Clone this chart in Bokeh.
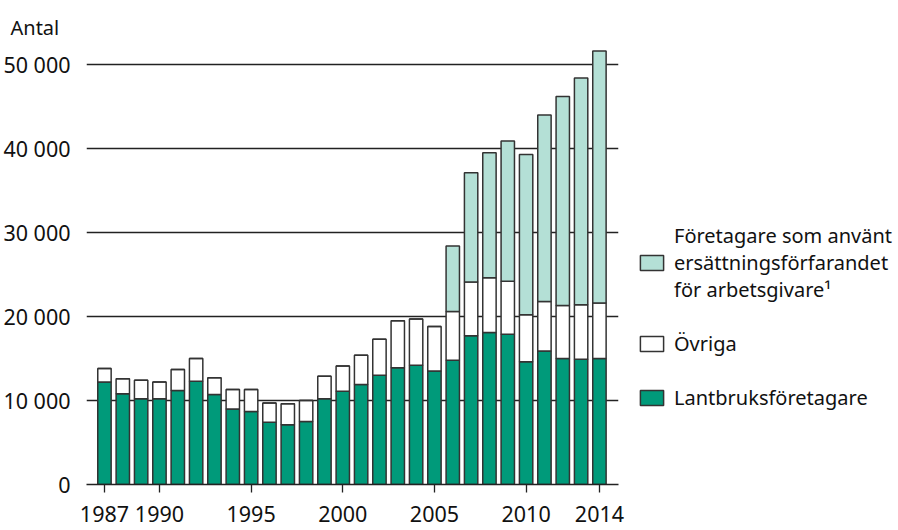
from bokeh.plotting import figure
from bokeh.models import Legend, LegendItem, FixedTicker, Range1d
from bokeh.embed import file_html
from bokeh.resources import INLINE

years = list(range(1987, 2015))
lantbruk = [12200, 10800, 10200, 10200, 11200, 12300, 10700, 9000, 8700, 7400,
            7100, 7500, 10200, 11100, 11900, 13000, 13900, 14200, 13500, 14800,
            17700, 18100, 17900, 14600, 15900, 15000, 14900, 15000]
ovriga = [1600, 1800, 2200, 2000, 2500, 2700, 2000, 2300, 2600, 2300,
          2500, 2500, 2700, 3000, 3500, 4300, 5600, 5500, 5300, 5800,
          6400, 6500, 6300, 5600, 5900, 6300, 6500, 6600]
ersattning = [0, 0, 0, 0, 0, 0, 0, 0, 0, 0,
              0, 0, 0, 0, 0, 0, 0, 0, 0, 7800,
              13000, 14900, 16700, 19100, 22200, 24900, 27000, 30000]

series_names = ["Lantbruksföretagare", "Övriga",
                "Företagare som använt\nersättningsförfarandet\nför arbetsgivare\u00b9"]
x_ticks = [1987, 1990, 1995, 2000, 2005, 2010, 2014]
y_ticks = [0, 10000, 20000, 30000, 40000, 50000]
y_tick_labels = ["0", "10 000", "20 000", "30 000", "40 000", "50 000"]

FONT = "Noto Sans"
colors = ["#009a7a", "#ffffff", "#b4e0d6"]

p = figure(frame_width=532, frame_height=441,
           min_border_left=85, min_border_right=281,
           min_border_top=43, min_border_bottom=46,
           x_range=Range1d(1986.02, 2015.04), y_range=Range1d(0, 52500),
           output_backend="svg", toolbar_location=None)
p.outline_line_color = None

p.title.text = "Antal"
p.title.align = "left"
p.title.offset = -76
p.title.standoff = 6
p.title.text_font = FONT
p.title.text_font_size = "20px"
p.title.text_font_style = "normal"
p.title.text_color = "#111111"

data = dict(year=years, lantbruk=lantbruk, ovriga=ovriga, ersattning=ersattning)
rs = p.vbar_stack(["lantbruk", "ovriga", "ersattning"], x="year", width=0.73,
                  source=data, fill_color=colors, line_color="#333333",
                  line_width=1.5)

# axes
p.xaxis.ticker = FixedTicker(ticks=x_ticks)
p.xaxis.axis_line_color = "#222222"
p.xaxis.axis_line_width = 1.3
p.xaxis.major_tick_out = 8
p.xaxis.major_tick_in = 0
p.xaxis.major_tick_line_color = "#222222"
p.xaxis.major_tick_line_width = 1.3
p.xaxis.minor_tick_line_color = None
p.xaxis.major_label_standoff = 13
p.xaxis.major_label_text_font = FONT
p.xaxis.major_label_text_font_size = "21.5px"
p.xaxis.major_label_text_color = "#111111"

p.yaxis.ticker = FixedTicker(ticks=y_ticks)
p.yaxis.major_label_overrides = {t: l for t, l in zip(y_ticks, y_tick_labels)}
p.yaxis.axis_line_color = None
p.yaxis.major_tick_line_color = None
p.yaxis.minor_tick_line_color = None
p.yaxis.major_label_standoff = 10
p.yaxis.major_label_text_font = FONT
p.yaxis.major_label_text_font_size = "21.5px"
p.yaxis.major_label_text_color = "#111111"

p.xgrid.grid_line_color = None
p.ygrid.ticker = FixedTicker(ticks=y_ticks)
p.ygrid.grid_line_color = "#222222"
p.ygrid.grid_line_width = 1.3

legend = Legend(items=[LegendItem(label=series_names[2], renderers=[rs[2]]),
                       LegendItem(label=series_names[1], renderers=[rs[1]]),
                       LegendItem(label=series_names[0], renderers=[rs[0]])],
                location=(19, 73), padding=0, margin=0, spacing=27,
                glyph_width=29, glyph_height=19, label_standoff=8,
                label_text_font=FONT, label_text_font_size="20px",
                label_text_color="#111111",
                border_line_color=None, background_fill_alpha=0)
p.add_layout(legend, "right")

open("out.html", "w").write(file_html(p, INLINE))
